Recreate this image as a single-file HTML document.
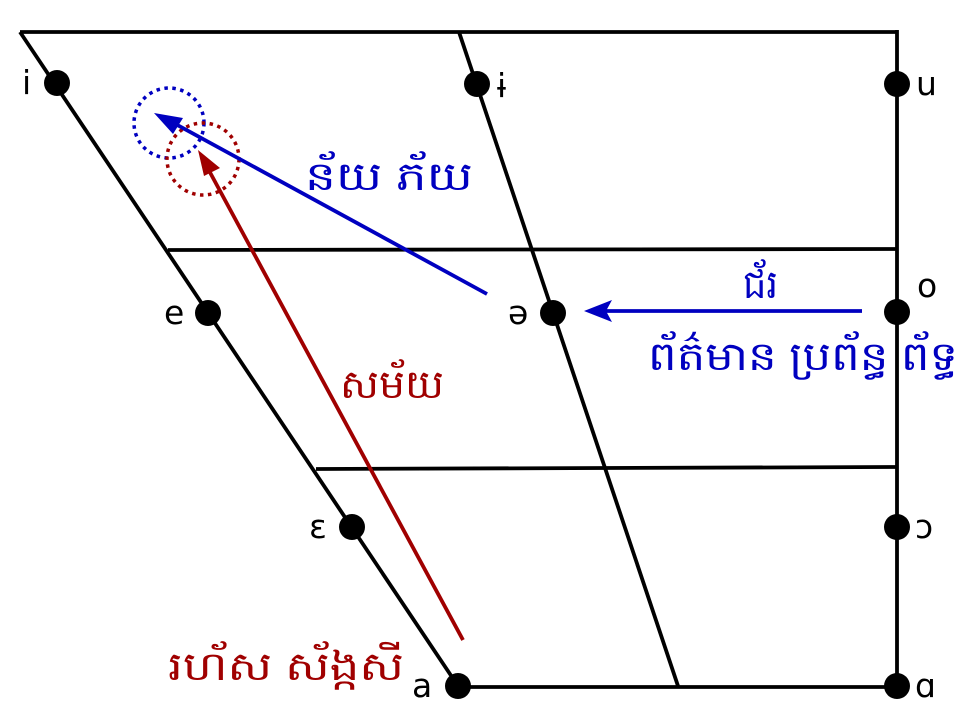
<!DOCTYPE html>
<html><head><meta charset="utf-8"><style>
html,body{margin:0;padding:0;background:#fff;}
svg{display:block;}
.ipa{font-family:"DejaVu Sans","Liberation Sans",sans-serif;font-size:33px;fill:#000;}
.km{font-family:"Liberation Sans","Noto Sans CJK SC",sans-serif;font-size:40px;}
</style></head><body>
<svg width="980" height="720" viewBox="0 0 980 720" xmlns="http://www.w3.org/2000/svg">
<g stroke="#000" stroke-width="3.8" fill="none">
<line x1="20" y1="32" x2="897" y2="32"/>
<line x1="20" y1="32" x2="458" y2="686"/>
<line x1="459" y1="32" x2="678" y2="686"/>
<line x1="897" y1="30" x2="897" y2="688"/>
<line x1="168" y1="250" x2="897" y2="249"/>
<line x1="316" y1="469" x2="897" y2="467"/>
<line x1="458" y1="687" x2="897" y2="687"/>
</g>
<g fill="#000">
<circle cx="57" cy="83" r="13"/>
<circle cx="477" cy="84" r="13"/>
<circle cx="897" cy="84" r="13"/>
<circle cx="208" cy="313" r="13"/>
<circle cx="553" cy="313" r="13"/>
<circle cx="897" cy="312" r="13"/>
<circle cx="352" cy="527" r="13"/>
<circle cx="897" cy="527" r="13"/>
<circle cx="458" cy="686" r="13"/>
<circle cx="897" cy="686" r="13"/>
</g>
<g class="ipa">
<text x="22" y="94">i</text>
<text x="497" y="97">ɨ</text>
<text x="916" y="95">u</text>
<text x="164" y="324">e</text>
<text x="508" y="324">ə</text>
<text x="917" y="297">o</text>
<text x="309" y="538">ɛ</text>
<text x="915" y="538">ɔ</text>
<text x="412" y="697">a</text>
<text x="915" y="697">ɑ</text>
</g>
<circle cx="169" cy="123" r="35" fill="none" stroke="#0000c0" stroke-width="3.5" stroke-dasharray="3.5 4.5"/>
<circle cx="203" cy="159" r="36" fill="none" stroke="#a00000" stroke-width="3.5" stroke-dasharray="3.5 4.5"/>
<line x1="487" y1="294" x2="170" y2="121" stroke="#0000c0" stroke-width="3.8"/>
<polygon points="154,113 183,118 173,134" fill="#0000c0"/>
<line x1="463" y1="640" x2="206" y2="165" stroke="#a00000" stroke-width="3.8"/>
<polygon points="198,150 220,168 204,176" fill="#a00000"/>
<line x1="862" y1="311" x2="600" y2="311" stroke="#0000c0" stroke-width="3.8"/>
<polygon points="584,311 612,300 606,311 612,322" fill="#0000c0"/>
<text class="km" x="305" y="190" fill="#0000c0" textLength="168" lengthAdjust="spacingAndGlyphs">ន័យ ភ័យ</text>
<text class="km" x="743" y="298" fill="#0000c0" textLength="35" lengthAdjust="spacingAndGlyphs">ជ័រ</text>
<text class="km" x="648" y="370" fill="#0000c0" textLength="310" lengthAdjust="spacingAndGlyphs">ព័ត៌មាន ប្រព័ន្ធ ព័ទ្ធ</text>
<text class="km" x="340" y="398" fill="#a00000" textLength="104" lengthAdjust="spacingAndGlyphs">សម័យ</text>
<text class="km" x="168" y="680" fill="#a00000" textLength="236" lengthAdjust="spacingAndGlyphs">រហ័ស ស័ង្កសី</text>
</svg>
</body></html>
